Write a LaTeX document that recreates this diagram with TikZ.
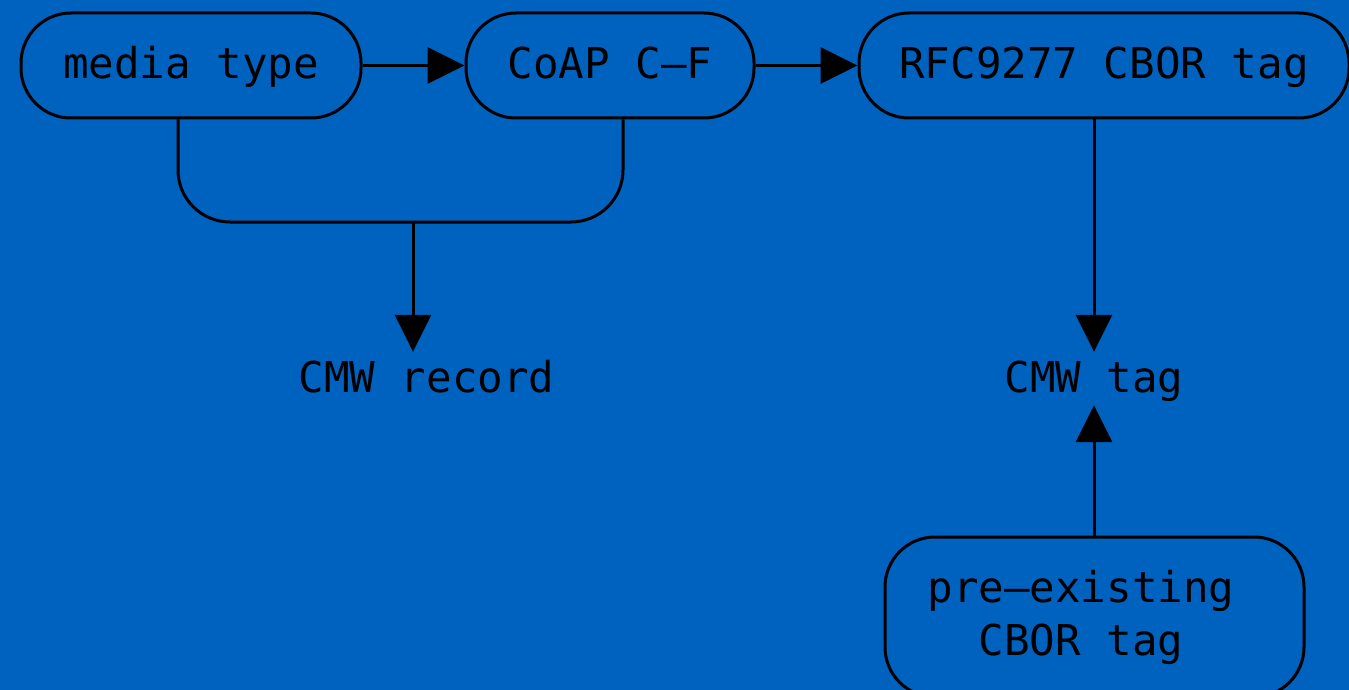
\documentclass[tikz,border=0pt]{standalone}
\usepackage{fontspec}
\setmainfont{DejaVu Sans Mono}
\usetikzlibrary{arrows.meta}
\definecolor{bg}{RGB}{0,98,191}
\tikzset{
  box/.style={draw=black, line width=3pt, rounded corners=50pt, inner sep=0pt,
    text height=31pt, text depth=4pt, minimum height=105pt},
  lbl/.style={inner sep=0pt, text height=31pt, text depth=4pt},
  arr/.style={draw=black, line width=3pt, -{Triangle[length=37pt,width=36pt]}},
  conn/.style={draw=black, line width=3pt},
}
\begin{document}
\begin{tikzpicture}[x=1pt, y=-1pt, font=\fontsize{42.5}{53}\selectfont]
\fill[bg] (0,0) rectangle (1349,690);
\useasboundingbox (0,0) rectangle (1349,690);
\node[box, minimum width=340pt] (mt) at (191,65.5) {media type};
\node[box, minimum width=288pt] (cf) at (610,65.5) {CoAP C–F};
\node[box, minimum width=490pt] (rfc) at (1104,65.5) {RFC9277 CBOR tag};
\node[lbl] (rec) at (426.5,378.5) {CMW record};
\node[lbl] (tag) at (1094,378.5) {CMW tag};
\node[draw=black, line width=3pt, rounded corners=50pt, inner sep=0pt,
  minimum width=419pt, minimum height=160pt, align=center] (pre) at (1094.5,617)
  {pre–existing\hspace*{27pt}\\CBOR tag\hspace*{27pt}};
\coordinate (j) at (413,222);
\draw[arr] (mt.east) -- (cf.west);
\draw[arr] (cf.east) -- (rfc.west);
\draw[conn, rounded corners=52pt] ([xshift=-13pt]mt.south) |- (j) -| ([xshift=13pt]cf.south);
\draw[arr] (j) -- ([yshift=9pt]j |- rec.north);
\draw[arr] (tag.north |- rfc.south) -- ([yshift=9pt]tag.north);
\draw[arr] (tag.south |- pre.north) -- ([yshift=-9pt]tag.south);
\end{tikzpicture}
\end{document}
